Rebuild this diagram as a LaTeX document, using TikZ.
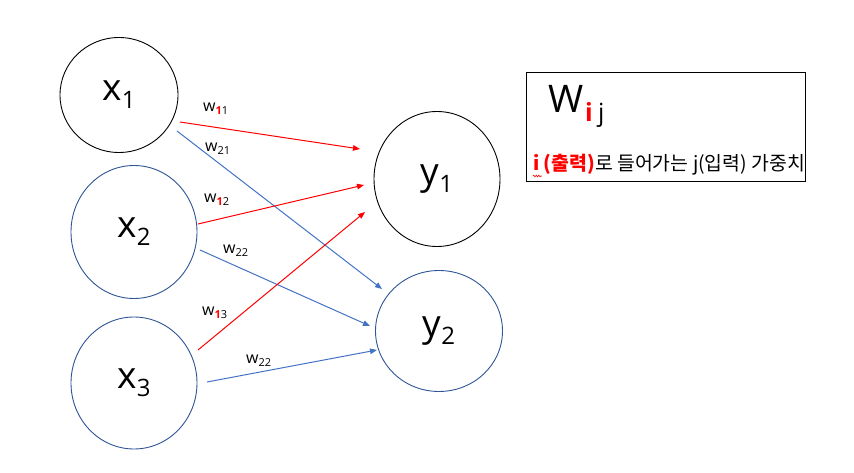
\documentclass[tikz,border=0pt]{standalone}
\usepackage{fontspec}
\setmainfont{Open Sans}
\newfontfamily\kr{Noto Sans CJK KR}
\usetikzlibrary{shapes.geometric,arrows.meta,decorations.pathmorphing}
\definecolor{arrred}{HTML}{FF0000}
\definecolor{arrblue}{HTML}{4472C4}
\definecolor{circblue}{HTML}{2F5597}
\newcommand\nsub[1]{\raisebox{-8pt}{\fontsize{24}{24}\selectfont #1}}
\newcommand\wsub[1]{\raisebox{-3pt}{\fontsize{11}{11}\selectfont #1}}
\newcommand\rone{\textcolor{arrred}{\textbf{1}}}
\begin{document}
\begin{tikzpicture}[x=1pt,y=-1pt,
  neuron/.style={ellipse,draw,line width=0.9pt,inner sep=0pt,font=\fontsize{37}{37}\selectfont},
  rarr/.style={draw=arrred,line width=1pt,-{Triangle[length=7pt,width=5.5pt]}},
  barr/.style={draw=arrblue,line width=1pt,-{Triangle[length=7pt,width=5.5pt]}},
  wlab/.style={anchor=base west,inner sep=0pt,font=\fontsize{16}{16}\selectfont}
]
\path[fill=white] (0,0) rectangle (854,473);
\useasboundingbox (0,0) rectangle (854,473);

\node[neuron,minimum width=118pt,minimum height=115pt] (x1) at (119,95) {x\nsub{1}};
\node[neuron,draw=circblue,minimum width=126pt,minimum height=133pt] (x2) at (134,232) {x\nsub{2}};
\node[neuron,draw=circblue,minimum width=126pt,minimum height=132pt] (x3) at (134,383) {x\nsub{3}};
\node[neuron,minimum width=126pt,minimum height=135pt] (y1) at (437,179) {y\nsub{1}};
\node[neuron,draw=circblue,minimum width=127pt,minimum height=121pt] (y2) at (439,331) {y\nsub{2}};

\draw[rarr] ([shift={(61,27)}]x1.center) -- ([shift={(-77,-30)}]y1.center);
\draw[barr] ([shift={(58,36)}]x1.center) -- ([shift={(-57,-42)}]y2.center);
\draw[rarr] ([shift={(64,-8)}]x2.center) -- ([shift={(-73,6)}]y1.center);
\draw[barr] ([shift={(66,18)}]x2.center) -- ([shift={(-69,-5)}]y2.center);
\draw[rarr] ([shift={(64,-33)}]x3.center) -- ([shift={(-72,33)}]y1.center);
\draw[barr] ([shift={(73,-1)}]x3.center) -- ([shift={(-62,19)}]y2.center);

\node[wlab] (lw11) at (203,112) {w\wsub{\rone 1}};
\node[wlab] (lw21) at (205,152) {w\wsub{21}};
\node[wlab] (lw12) at (204,203) {w\wsub{\rone 2}};
\node[wlab] (lw22a) at (223,254) {w\wsub{22}};
\node[wlab] (lw13) at (202,315) {w\wsub{\rone 3}};
\node[wlab] (lw22b) at (246,363) {w\wsub{22}};

\node[draw,line width=1pt,minimum width=279pt,minimum height=109pt,inner sep=0pt,anchor=north west] (box) at (526,72) {};
\node[anchor=base west,inner sep=0pt,font=\fontsize{38}{38}\selectfont] (W) at (548,113) {W};
\node[anchor=base west,inner sep=0pt,font=\fontsize{25}{25}\selectfont\bfseries,text=arrred] (wi) at (585,122) {i};
\node[anchor=base west,inner sep=0pt,font=\fontsize{25}{25}\selectfont] (wj) at (598,122) {j};
\node[anchor=base west,inner sep=0pt,font=\kr\fontsize{19.4}{19.4}\selectfont] (desc) at (533,171) {\textcolor{arrred}{\textbf{i (출력)}}로 들어가는 j(입력) 가중치};
\draw[arrred,line width=0.6pt,decorate,decoration={snake,amplitude=0.8pt,segment length=2.5pt}] ([shift={(0,5)}]desc.base west) -- ([shift={(9,5)}]desc.base west);
\end{tikzpicture}
\end{document}
